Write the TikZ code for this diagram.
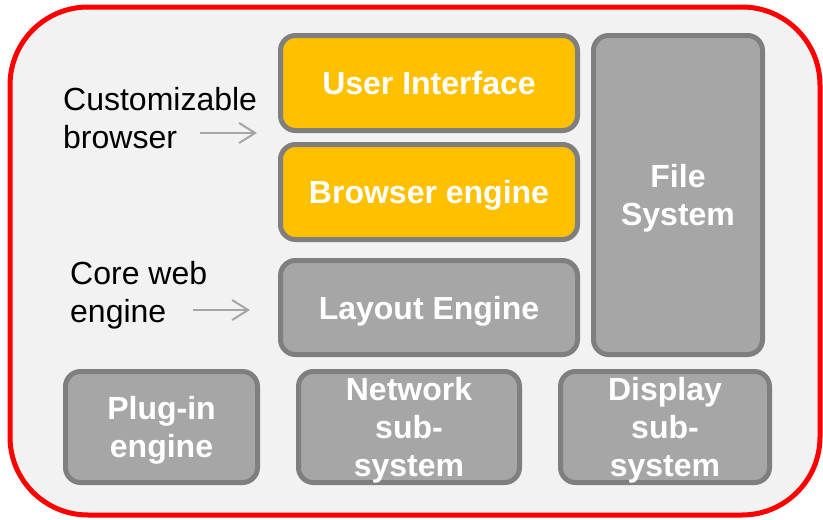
\documentclass[tikz,border=0pt]{standalone}
\usepackage{fontspec}
\setmainfont{Liberation Sans}
\usetikzlibrary{arrows.meta}
\definecolor{panelbg}{HTML}{F2F2F2}
\definecolor{boxgray}{HTML}{A6A6A6}
\definecolor{boxedge}{HTML}{7F7F7F}
\definecolor{boxgold}{HTML}{FFC000}
\definecolor{hintarrow}{HTML}{A6A6A6}
\tikzset{
  layer/.style={draw=boxedge, line width=5pt, rounded corners=15pt,
    fill=boxgray, text=white, align=center, inner sep=0pt, text depth=0pt,
    font=\fontsize{32}{38}\selectfont\bfseries},
  goldlayer/.style={layer, fill=boxgold},
  sidelabel/.style={anchor=west, align=left, inner sep=0pt,
    font=\fontsize{32}{38}\selectfont},
  hint/.style={draw=hintarrow, line width=2pt,
    -{Straight Barb[length=16pt,width=20pt,line width=2pt]}}
}
\begin{document}
\begin{tikzpicture}[x=1pt,y=-1pt]
\useasboundingbox (0,0) rectangle (823,520);
% outer frame
\draw[red, line width=5pt, fill=panelbg, rounded corners=78pt] (10,7) rectangle (820,515);

% upper stack
\node[goldlayer, minimum width=297pt, minimum height=95pt] (ui) at (429,83) {User Interface};
\node[goldlayer, minimum width=297pt, minimum height=95pt] (be) at (429,192) {Browser engine};
\node[layer, minimum width=297pt, minimum height=94pt] (le) at (429,307.5) {Layout Engine};
\node[layer, minimum width=169pt, minimum height=319pt] (fs) at (678,195) {File\\System};

% bottom row
\node[layer, minimum width=192pt, minimum height=111pt] (pe) at (161.5,427) {Plug-in\\engine};
\node[layer, minimum width=221pt, minimum height=111pt] (ns) at (409,427) {Network\\sub-\\system};
\node[layer, minimum width=209pt, minimum height=111pt] (ds) at (665,427) {Display\\sub-\\system};

% side annotations
\node[sidelabel] (cb) at (63,118) {Customizable\\browser};
\node[sidelabel] (cw) at (70,295) {Core web\\engine};
\coordinate (cbs) at (200,133);
\coordinate (cbe) at (257,133);
\coordinate (cws) at (193,310);
\coordinate (cwe) at (250,310);
\draw[hint] (cbs) -- (cbe);
\draw[hint] (cws) -- (cwe);
\end{tikzpicture}
\end{document}
